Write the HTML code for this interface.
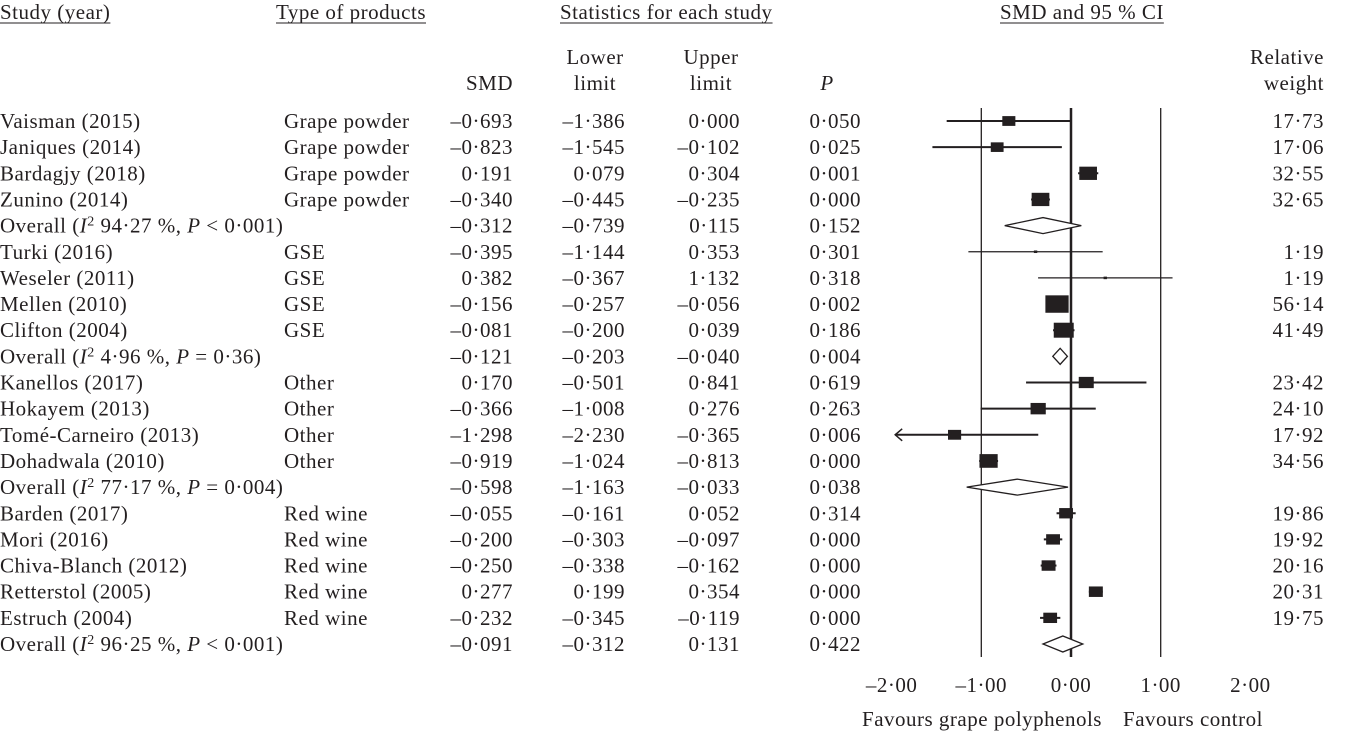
<!DOCTYPE html>
<html><head><meta charset="utf-8"><style>
html,body{margin:0;padding:0;background:#fff;}
svg{display:block;font-family:"Liberation Serif",serif;font-size:21px;letter-spacing:0.5px;fill:#231f20;}
</style></head><body>
<svg id="c" width="1349" height="731" viewBox="0 0 1349 731"></svg>
<script>
const studies=["Vaisman (2015)","Janiques (2014)","Bardagjy (2018)","Zunino (2014)","Overall (I2 94·27 %, P < 0·001)","Turki (2016)","Weseler (2011)","Mellen (2010)","Clifton (2004)","Overall (I2 4·96 %, P = 0·36)","Kanellos (2017)","Hokayem (2013)","Tomé-Carneiro (2013)","Dohadwala (2010)","Overall (I2 77·17 %, P = 0·004)","Barden (2017)","Mori (2016)","Chiva-Blanch (2012)","Retterstol (2005)","Estruch (2004)","Overall (I2 96·25 %, P < 0·001)"];
const types=["Grape powder","Grape powder","Grape powder","Grape powder","","GSE","GSE","GSE","GSE","","Other","Other","Other","Other","","Red wine","Red wine","Red wine","Red wine","Red wine",""];
const smd=[-0.693,-0.823,0.191,-0.340,-0.312,-0.395,0.382,-0.156,-0.081,-0.121,0.170,-0.366,-1.298,-0.919,-0.598,-0.055,-0.200,-0.250,0.277,-0.232,-0.091];
const lower=[-1.386,-1.545,0.079,-0.445,-0.739,-1.144,-0.367,-0.257,-0.200,-0.203,-0.501,-1.008,-2.230,-1.024,-1.163,-0.161,-0.303,-0.338,0.199,-0.345,-0.312];
const upper=[0.000,-0.102,0.304,-0.235,0.115,0.353,1.132,-0.056,0.039,-0.040,0.841,0.276,-0.365,-0.813,-0.033,0.052,-0.097,-0.162,0.354,-0.119,0.131];
const pvals=[0.050,0.025,0.001,0.000,0.152,0.301,0.318,0.002,0.186,0.004,0.619,0.263,0.006,0.000,0.038,0.314,0.000,0.000,0.000,0.000,0.422];
const weights=[17.73,17.06,32.55,32.65,null,1.19,1.19,56.14,41.49,null,23.42,24.10,17.92,34.56,null,19.86,19.92,20.16,20.31,19.75,null];
const ticks=[-2,-1,0,1,2];
const ns="http://www.w3.org/2000/svg",svg=document.getElementById('c');
const X=v=>1071+v*89.7, Y=i=>121+i*26.15;
function el(t,a,p){const e=document.createElementNS(ns,t);for(const k in a)e.setAttribute(k,a[k]);(p||svg).appendChild(e);return e;}
function fmt(v){return (v<0?"–":"")+Math.abs(v).toFixed(3).replace('.','·');}
function txt(x,y,s,anchor,name){const t=el('text',{x:x,y:y,'text-anchor':anchor||'start'});t.textContent=s;return t;}
// headers
[[0,"Study (year)"],[276,"Type of products"],[560,"Statistics for each study"],[1000,"SMD and 95 % CI"]].forEach(h=>{const t=txt(h[0],19,h[1],'start','column-header');const w=t.getComputedTextLength();const l=el('line',{x1:h[0],x2:h[0]+w,y1:23,y2:23,stroke:'#231f20','stroke-width':1});});
txt(513,90,"SMD",'end','smd-header');
txt(595,64,"Lower",'middle','lower-header');txt(595,90,"limit",'middle','lower-header');
txt(711,64,"Upper",'middle','upper-header');txt(711,90,"limit",'middle','upper-header');
const ph=txt(827,90,"P",'middle','p-header');ph.setAttribute('font-style','italic');
txt(1324,64,"Relative",'end','weight-header');txt(1324,90,"weight",'end','weight-header');
// reference lines
[-1,0,1].forEach(v=>{const l=el('line',{x1:X(v),x2:X(v),y1:108,y2:657,stroke:'#231f20','stroke-width':v===0?2.5:1.3});});
ticks.forEach(v=>{txt(X(v),692,(v<0?"–":"")+Math.abs(v).toFixed(2).replace('.','·'),'middle','x-tick-label');});
txt(982,726,"Favours grape polyphenols",'middle','favours-left-label');
txt(1193,726,"Favours control",'middle','favours-right-label');
studies.forEach((s,i)=>{
  const y=Y(i)+7, ov=weights[i]===null;
  if(ov){const m=s.match(/^Overall \(I2 (.*), (P) (.*)\)$/);const t=el('text',{x:0,y:y});
    t.innerHTML='Overall (<tspan font-style="italic">I</tspan><tspan dy="-7" font-size="14">2</tspan><tspan dy="7"> '+m[1]+', </tspan><tspan font-style="italic">P</tspan> '+m[3].replace('<','&lt;')+')';}
  else txt(0,y,s,'start','study-name');
  if(types[i])txt(284,y,types[i],'start','product-type');
  txt(513,y,fmt(smd[i]),'end','smd-value');
  txt(625,y,fmt(lower[i]),'end','lower-limit-value');
  txt(740,y,fmt(upper[i]),'end','upper-limit-value');
  txt(861,y,fmt(pvals[i]),'end','p-value');
  if(!ov)txt(1324,y,weights[i].toFixed(2).replace('.','·'),'end','weight-value');
  const cy=Y(i);
  if(ov){const d=el('polygon',{points:`${X(lower[i])},${cy} ${X(smd[i])},${cy-8} ${X(upper[i])},${cy} ${X(smd[i])},${cy+8}`,fill:'#fff',stroke:'#231f20','stroke-width':1.3});}
  else{
    const lo=Math.max(lower[i],-1.96);
    const l=el('line',{x1:X(lo),x2:X(upper[i]),y1:cy,y2:cy,stroke:'#231f20','stroke-width':weights[i]<5?1.3:2});
    if(lower[i]<-1.96){const a=el('polyline',{points:`${X(lo)+7},${cy-6} ${X(lo)},${cy} ${X(lo)+7},${cy+6}`,fill:'none',stroke:'#231f20','stroke-width':1.5});}
    const w=3.1*Math.sqrt(weights[i]),h=w*0.75;
    const r=el('rect',{x:X(smd[i])-w/2,y:cy-h/2,width:w,height:h,fill:'#231f20'});
  }
});
</script>
</body></html>
